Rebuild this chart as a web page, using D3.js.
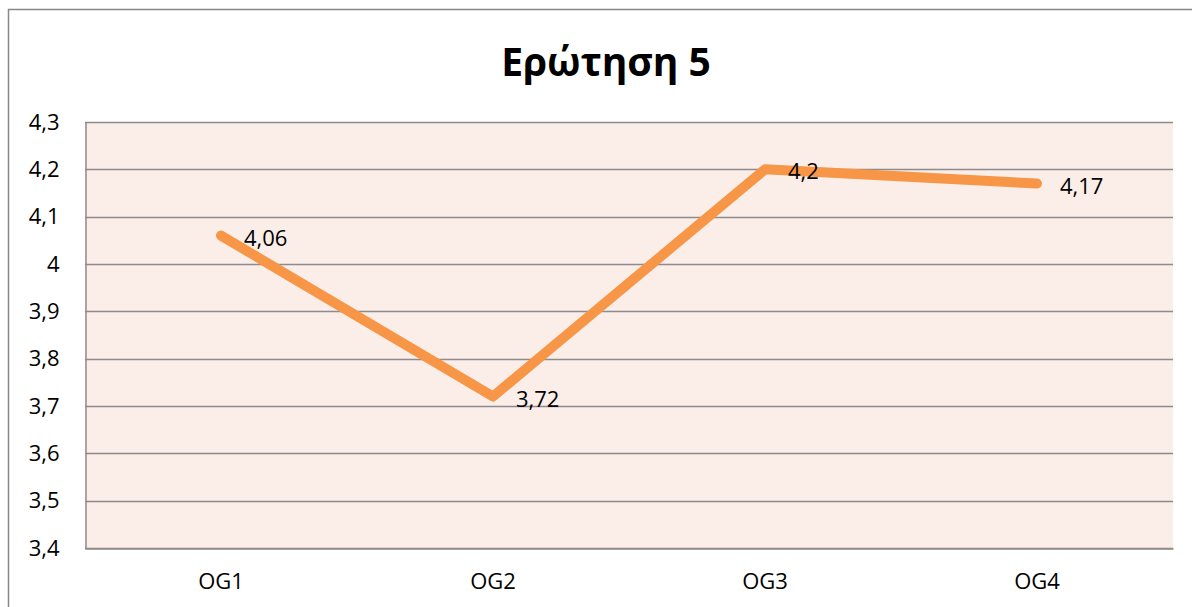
<!DOCTYPE html>
<html lang="el">
<head>
<meta charset="UTF-8">
<title>Ερώτηση 5</title>
<style>
  html, body { margin: 0; padding: 0; background: #fff; }
  svg { display: block; font-family: "Open Sans", "Noto Sans", sans-serif; }
</style>
</head>
<body>
<div id="chart"></div>
<script src="https://cdn.jsdelivr.net/npm/d3@7"></script>
<script>
// data
const categories = ["OG1", "OG2", "OG3", "OG4"];
const values = [4.06, 3.72, 4.2, 4.17];
const yTicks = [3.4, 3.5, 3.6, 3.7, 3.8, 3.9, 4, 4.1, 4.2, 4.3];
const title = "Ερώτηση 5";

const width = 1192, height = 607;
const margin = { top: 122, right: 19, bottom: 59, left: 85 };
const fmt = d => String(d).replace(".", ",");

const svg = d3.select("#chart").append("svg")
    .attr("width", width)
    .attr("height", height);

// outer chart frame (runs off the right and bottom of the picture)
svg.append("rect")
    .attr("x", 8.5).attr("y", 9.5)
    .attr("width", width + 20).attr("height", height + 20)
    .attr("fill", "#fff")
    .attr("stroke", "#878787")
    .attr("stroke-width", 1.5);

const x = d3.scaleBand()
    .domain(categories)
    .range([margin.left, width - margin.right]);

const y = d3.scaleLinear()
    .domain([3.4, 4.3])
    .range([height - margin.bottom, margin.top]);

// plot background
svg.append("rect")
    .attr("x", margin.left)
    .attr("y", margin.top)
    .attr("width", width - margin.left - margin.right)
    .attr("height", height - margin.top - margin.bottom)
    .attr("fill", "#fbede8");

// gridlines
svg.append("g")
    .selectAll("line")
    .data(yTicks)
    .enter().append("line")
    .attr("x1", margin.left)
    .attr("x2", width - margin.right)
    .attr("y1", d => Math.round(y(d)) + 0.5)
    .attr("y2", d => Math.round(y(d)) + 0.5)
    .attr("stroke", "#8c8c8c")
    .attr("stroke-width", 1.5);

// y axis
const yAxis = svg.append("g")
    .attr("transform", `translate(${margin.left + 0.5},0)`)
    .call(d3.axisLeft(y).tickValues(yTicks).tickFormat(fmt).tickSize(0).tickPadding(26));
yAxis.select(".domain").attr("stroke", "#8c8c8c").attr("stroke-width", 1.5);
yAxis.selectAll("text")
    .attr("fill", "#000")
    .style("font-size", "22px")
    .style("font-family", "\"Open Sans\", sans-serif");

// x axis
const xAxis = svg.append("g")
    .attr("transform", `translate(0,${height - margin.bottom + 0.5})`)
    .call(d3.axisBottom(x).tickSize(0).tickPadding(25));
xAxis.select(".domain").attr("stroke", "#8c8c8c").attr("stroke-width", 1.5);
xAxis.selectAll("text")
    .attr("fill", "#000")
    .style("font-size", "22px")
    .style("font-family", "\"Open Sans\", sans-serif");

// line
const pts = categories.map((c, i) => ({ c, v: values[i] }));
const line = d3.line()
    .x(d => x(d.c) + x.bandwidth() / 2)
    .y(d => y(d.v));

svg.append("path")
    .datum(pts)
    .attr("d", line)
    .attr("fill", "none")
    .attr("stroke", "#f79646")
    .attr("stroke-width", 10)
    .attr("stroke-linecap", "round")
    .attr("stroke-linejoin", "round");

// data labels
svg.append("g")
    .selectAll("text")
    .data(pts)
    .enter().append("text")
    .attr("x", d => x(d.c) + x.bandwidth() / 2 + 23)
    .attr("y", d => y(d.v) + 10)
    .attr("fill", "#000")
    .style("font-size", "22px")
    .text(d => fmt(d.v));

// title
svg.append("text")
    .attr("x", 606)
    .attr("y", 76)
    .attr("text-anchor", "middle")
    .attr("fill", "#000")
    .style("font-size", "39px")
    .style("font-weight", "bold")
    .text(title);
</script>
</body>
</html>
